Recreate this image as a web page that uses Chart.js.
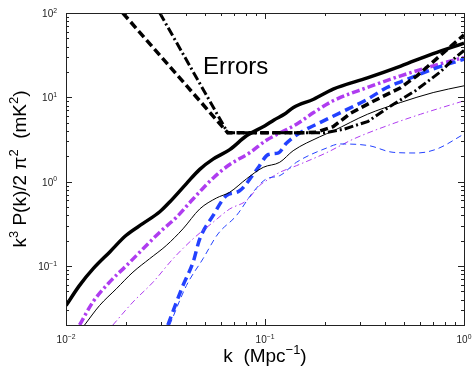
<!DOCTYPE html>
<html>
<head>
<meta charset="utf-8">
<script src="https://cdn.jsdelivr.net/npm/chart.js@4/dist/chart.umd.min.js"></script>
<style>
  body{ margin:0; background:#fff; }
  #chart{ display:block; }
</style>
</head>
<body>
<canvas id="chart" width="474" height="369"></canvas>
<script>
// signal, thick black solid
const kSig = [0.01, 0.0117, 0.0137, 0.0166, 0.020, 0.0244, 0.0296, 0.0332, 0.0403, 0.047, 0.0548, 0.0665, 0.0807, 0.1, 0.111, 0.125, 0.139, 0.1755, 0.22, 0.327, 0.481, 0.7, 1.0];
const pSig = [0.034, 0.059, 0.093, 0.147, 0.23, 0.32, 0.44, 0.575, 0.95, 1.4, 1.85, 2.4, 3.5, 4.6, 5.4, 6.3, 7.6, 9.5, 12.5, 17, 23.5, 33, 44];
// thick purple dash-dot
const kPurple = [0.0117, 0.01365, 0.01655, 0.0201, 0.0244, 0.0296, 0.0359, 0.0435, 0.0548, 0.0665, 0.0837, 0.1016, 0.114, 0.144, 0.1755, 0.22, 0.327, 0.481, 0.7, 1.0];
const pPurple = [0.02, 0.0374, 0.0645, 0.101, 0.16, 0.252, 0.379, 0.624, 1.1, 1.6, 2.2, 3.1, 3.6, 4.8, 6.6, 9.1, 13.1, 18, 23.6, 29.7];
// thin black solid
const kThin = [0.0124, 0.01474, 0.0179, 0.0217, 0.0263, 0.0319, 0.0387, 0.047, 0.057, 0.0665, 0.0807, 0.098, 0.1186, 0.1385, 0.188, 0.22, 0.327, 0.481, 0.7, 1.0];
const pThin = [0.02, 0.034, 0.0537, 0.0847, 0.122, 0.175, 0.276, 0.475, 0.64, 0.75, 1.08, 1.48, 1.7, 2.33, 3.4, 4.0, 6.3, 8.7, 11.4, 13.7];
// thick blue dashed
const kBlue = [0.0325, 0.0387, 0.0435, 0.047, 0.0548, 0.0639, 0.0745, 0.0913, 0.104, 0.117, 0.128, 0.151, 0.19, 0.24, 0.327, 0.41, 0.52, 0.7, 1.0];
const pBlue = [0.02, 0.0588, 0.111, 0.21, 0.396, 0.683, 0.78, 1.41, 2.1, 2.2, 2.85, 3.84, 5.05, 6.6, 9.5, 13.1, 16.4, 21.7, 28.3];
// thin purple dash-dot
const kPurpleThin = [0.0172, 0.0217, 0.0274, 0.0345, 0.0435, 0.0548, 0.0665, 0.0807, 0.0938, 0.105, 0.1186, 0.144, 0.2033, 0.278, 0.41, 0.604, 1.0];
const pPurpleThin = [0.02, 0.0374, 0.0645, 0.122, 0.21, 0.33, 0.475, 0.596, 0.897, 1.08, 1.29, 1.55, 2.2, 3.2, 4.6, 6.3, 9.1];
// thin blue dashed
const kBlueThin = [0.0332, 0.0403, 0.0488, 0.058, 0.0718, 0.087, 0.1016, 0.1186, 0.144, 0.2033, 0.237, 0.334, 0.44, 0.58, 0.73, 1.0];
const pBlueThin = [0.02, 0.0588, 0.122, 0.24, 0.396, 0.75, 1.08, 1.18, 1.7, 2.5, 2.8, 2.67, 2.23, 2.19, 2.44, 3.67];
// error curves (black)
const kErrDash = [0.0193, 0.065, 0.1, 0.15, 0.18, 0.22, 0.27, 0.35, 0.48, 0.58, 0.72, 1.0];
const pErrDash = [100, 3.8, 3.8, 3.8, 3.85, 4.5, 6.5, 9, 13, 18, 28, 55];
const kErrDot = [0.0296, 0.065, 0.1, 0.2, 0.25, 0.33, 0.41, 0.57, 0.76, 0.88, 1.0];
const pErrDot = [100, 3.8, 3.8, 3.8, 4.2, 5.2, 7.4, 12, 20, 28, 36];

const xDecades = [-2, -1, 0];
const yDecades = [-1, 0, 1, 2];

const FONT = "'Liberation Sans', Arial, sans-serif";
const PURPLE = "rgb(175,60,240)";
const BLUE = "rgb(35,65,255)";

function pts(k, p){
  return k.map((v, i) => ({x: v, y: p[i]}));
}

function line(k, p, color, width, dash, straight){
  return {
    data: pts(k, p),
    borderColor: color,
    borderWidth: width,
    borderDash: dash || [],
    pointRadius: 0,
    cubicInterpolationMode: straight ? "default" : "monotone",
    tension: 0,
    fill: false,
    clip: 0
  };
}

// text with superscripts: parts = [[text, isSup], ...]
function rich(ctx, parts, x, y, size, align){
  const sup = size * 0.68;
  let w = 0;
  parts.forEach(p => {
    ctx.font = (p[1] ? sup : size) + "px " + FONT;
    w += ctx.measureText(p[0]).width;
  });
  let cx = align === "right" ? x - w : (align === "center" ? x - w / 2 : x);
  ctx.textAlign = "left";
  ctx.textBaseline = "alphabetic";
  parts.forEach(p => {
    ctx.font = (p[1] ? sup : size) + "px " + FONT;
    ctx.fillText(p[0], cx, p[1] ? y - size * 0.42 : y);
    cx += ctx.measureText(p[0]).width;
  });
}

const framePlugin = {
  id: "frame",
  afterDraw(chart){
    const ctx = chart.ctx;
    const a = chart.chartArea;
    const xs = chart.scales.x, ys = chart.scales.y;
    ctx.save();
    ctx.strokeStyle = "#222";
    ctx.lineWidth = 1;
    ctx.strokeRect(Math.round(a.left) + 0.5, Math.round(a.top) + 0.5, Math.round(a.right - a.left), Math.round(a.bottom - a.top));

    // ticks on all four sides, pointing inward
    ctx.beginPath();
    xDecades.forEach(d => {
      for(let m = 1; m <= 9; m++){
        const v = m * Math.pow(10, d);
        if(v < 0.01 || v > 1) continue;
        const px = Math.round(xs.getPixelForValue(v)) + 0.5;
        const len = m === 1 ? 6 : 3;
        ctx.moveTo(px, a.bottom); ctx.lineTo(px, a.bottom - len);
        ctx.moveTo(px, a.top); ctx.lineTo(px, a.top + len);
      }
    });
    [-2, -1, 0, 1, 2].forEach(d => {
      for(let m = 1; m <= 9; m++){
        const v = m * Math.pow(10, d);
        if(v < 0.02 || v > 100) continue;
        const py = Math.round(ys.getPixelForValue(v)) + 0.5;
        const len = m === 1 ? 6 : 3;
        ctx.moveTo(a.left, py); ctx.lineTo(a.left + len, py);
        ctx.moveTo(a.right, py); ctx.lineTo(a.right - len, py);
      }
    });
    ctx.stroke();

    // tick labels
    ctx.fillStyle = "#222";
    xDecades.forEach(d => {
      const px = xs.getPixelForValue(Math.pow(10, d));
      rich(ctx, [["10", false], [d === 0 ? "0" : "\u2212" + (-d), true]], px, 343, 10, "center");
    });
    yDecades.forEach(d => {
      const py = ys.getPixelForValue(Math.pow(10, d));
      rich(ctx, [["10", false], [d < 0 ? "\u2212" + (-d) : String(d), true]], a.left - 9, py + 4, 10, "right");
    });

    // axis titles
    ctx.fillStyle = "#000";
    rich(ctx, [["k  (Mpc", false], ["\u22121", true], [")", false]], (a.left + a.right) / 2, 362, 19, "center");
    ctx.save();
    ctx.translate(26, (a.top + a.bottom) / 2);
    ctx.rotate(-Math.PI / 2);
    rich(ctx, [["k", false], ["3", true], [" P(k)/2 \u03c0", false], ["2", true], ["  (mK", false], ["2", true], [")", false]], 0, 0, 19, "center");
    ctx.restore();

    // annotation
    rich(ctx, [["Errors", false]], 203, 74, 24, "left");
    ctx.restore();
  }
};

new Chart(document.getElementById("chart"), {
  type: "line",
  data: {
    datasets: [
      line(kBlueThin, pBlueThin, BLUE, 1, [6, 4]),
      line(kPurpleThin, pPurpleThin, PURPLE, 1, [6, 3, 1.5, 3]),
      line(kThin, pThin, "#000", 1, []),
      line(kErrDot, pErrDot, "#000", 3, [9, 3, 2, 3], true),
      line(kErrDash, pErrDash, "#000", 3.5, [8, 4], true),
      line(kBlue, pBlue, BLUE, 3.5, [9, 5]),
      line(kPurple, pPurple, PURPLE, 3.5, [8, 3, 2.5, 3]),
      line(kSig, pSig, "#000", 3.5, [])
    ]
  },
  options: {
    responsive: false,
    animation: false,
    devicePixelRatio: 1,
    layout: { padding: { top: 13, right: 10, left: 0, bottom: 0 } },
    plugins: { legend: { display: false }, tooltip: { enabled: false } },
    scales: {
      x: {
        type: "logarithmic", min: 0.01, max: 1,
        grid: { display: false }, border: { display: false },
        ticks: { display: false },
        afterFit: s => { s.height = 44; }
      },
      y: {
        type: "logarithmic", min: 0.02, max: 100,
        grid: { display: false }, border: { display: false },
        ticks: { display: false },
        afterFit: s => { s.width = 66; }
      }
    }
  },
  plugins: [framePlugin]
});
</script>
</body>
</html>
